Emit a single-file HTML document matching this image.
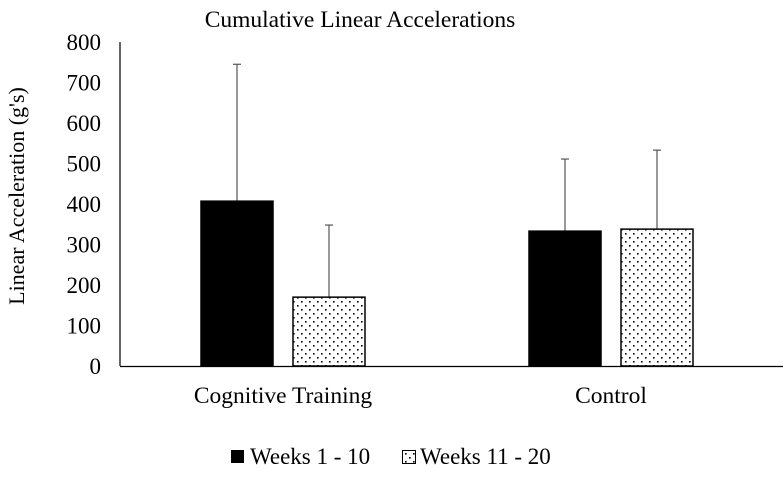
<!DOCTYPE html>
<html><head><meta charset="utf-8"><style>
body{margin:0;background:#fff;}
svg text{font-family:"Liberation Serif",serif;fill:#000;}
</style></head><body>
<svg width="783" height="472">
<defs>
<pattern id="dots" width="8" height="8" patternUnits="userSpaceOnUse">
<rect width="8" height="8" fill="#fff"/>
<rect x="1" y="1" width="1.6" height="1.6" fill="#000"/>
<rect x="5" y="5" width="1.6" height="1.6" fill="#000"/>
</pattern>
</defs>
<text x="360" y="27" font-size="23.5" text-anchor="middle">Cumulative Linear Accelerations</text>
<text transform="translate(24,196) rotate(-90)" font-size="22" text-anchor="middle">Linear Acceleration (g's)</text>
<g id="ticks"></g>
<g id="bars"></g>
<line x1="120" y1="42" x2="120" y2="366" stroke="#000" stroke-width="1.2"/>
<line x1="120" y1="366.5" x2="783" y2="366.5" stroke="#000" stroke-width="1.2"/>
<g>
<rect x="231" y="450" width="13" height="13" fill="#000"/>
<text x="250" y="464" font-size="23">Weeks 1 - 10</text>
<rect x="402.5" y="450.5" width="13" height="13" fill="url(#dots)" stroke="#000"/>
<text x="420" y="464" font-size="23">Weeks 11 - 20</text>
</g>
</svg>
<script>
const categories=["Cognitive Training","Control"];
const weeks1to10=[407,333];
const weeks11to20=[170,338];
const err1to10=[338,178];
const err11to20=[178,195];
const yTicks=[0,100,200,300,400,500,600,700,800];
const NS="http://www.w3.org/2000/svg";
const y=v=>366-v*0.405;
const catX=i=>283+i*328;
function mk(tag,attrs,parent){const e=document.createElementNS(NS,tag);for(const k in attrs)e.setAttribute(k,attrs[k]);parent.appendChild(e);return e;}
const tg=document.getElementById('ticks');
yTicks.forEach(t=>{const e=mk('text',{x:101,y:y(t)+8,'font-size':23,'text-anchor':'end'},tg);e.textContent=t;

});
const bg=document.getElementById('bars');
categories.forEach((c,i)=>{
 const cx=catX(i);
 const lab=mk('text',{x:cx,y:403,'font-size':23.5,'text-anchor':'middle'},bg);lab.textContent=c;
 
 
 [[weeks1to10,err1to10,-82,'#000'],[weeks11to20,err11to20,10,'url(#dots)']].forEach(([s,er,off,fill],k)=>{
  const x0=cx+off, w=72, v=s[i];
  const top=y(v+er[i]);
  const el=mk('line',{x1:x0+w/2,x2:x0+w/2,y1:top,y2:y(v),stroke:'#555','stroke-width':1.2},bg);
  
  
  const cap=mk('line',{x1:x0+w/2-4,x2:x0+w/2+4,y1:top,y2:top,stroke:'#555','stroke-width':1.2},bg);
  
  
  const r=mk('rect',{x:x0,y:y(v),width:w,height:366-y(v),fill:fill,stroke:'#000','stroke-width':1.5},bg);
  
  
 });
});
</script>
</body></html>
